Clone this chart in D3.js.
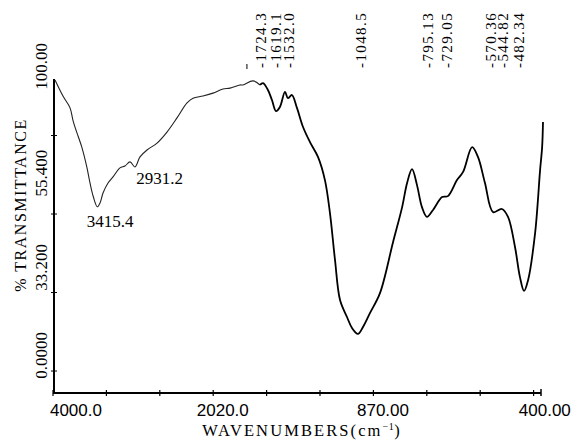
<!DOCTYPE html>
<html>
<head>
<meta charset="utf-8">
<script src="https://cdn.jsdelivr.net/npm/d3@7"></script>
<style>
  body { margin: 0; background: #fff; }
  svg { display: block; }
</style>
</head>
<body>
<div id="chart"></div>
<script>
// spectrum (wavenumber cm-1, % transmittance)
var wavenumbers = [3976, 3877, 3796, 3757, 3697, 3656, 3596, 3557, 3517, 3469,
    3437, 3401, 3341, 3281, 3198, 3138, 3078, 3018, 2958, 2874,
    2754, 2635, 2515, 2395, 2323, 2204, 2084, 1980, 1932, 1865,
    1845, 1777, 1730, 1709, 1676, 1649, 1622, 1595, 1561, 1541,
    1514, 1480, 1439, 1392, 1338, 1291, 1257, 1223, 1189, 1142,
    1108, 1068, 1034, 993, 959, 914, 883, 866, 849, 832,
    815, 798, 777, 746, 726, 695, 674, 643, 623, 599,
    571, 541, 520, 496, 479, 465, 451, 427, 410, 403, 400];
var transmittance = [99.7, 94.4, 90.8, 86.4, 81.6, 78.4, 72.1, 66.9, 62.5, 59.3,
    60.5, 63.7, 66.9, 68.8, 71.7, 72.3, 73.6, 72.0, 75.2, 77.4,
    79.6, 83.1, 87.6, 92.4, 93.9, 94.6, 95.5, 96.8, 97.1, 98.1,
    98.1, 99.4, 98.1, 98.7, 96.5, 93.3, 89.8, 91.1, 95.9, 93.9,
    94.9, 90.8, 84.7, 79.9, 75.2, 67.8, 57.3, 42.4, 29.6, 24.2,
    20.7, 18.8, 21.0, 25.5, 31.8, 48.1, 59.2, 66.9, 71.3, 66.2,
    59.2, 56.1, 58.3, 62.4, 62.7, 67.8, 70.4, 78.3, 75.2, 66.9,
    57.6, 58.6, 56.1, 46.5, 36.9, 32.5, 36.0, 51.0, 71.0, 78.3, 86.3];

// peak annotations across the top
var peakValues = [1724.3, 1619.1, 1532.0, 1048.5, 795.13, 729.05, 570.36, 544.82, 482.34];
var peakLabels = ["1724.3", "1619.1", "1532.0", "1048.5", "795.13", "729.05", "570.36", "544.82", "482.34"];
var extraMarks = [1818];

// peaks labelled inside the plot
var bandValues = [3415.4, 2931.2];
var bandLabels = ["3415.4", "2931.2"];

// axis texts
var xTickLabels = ["4000.0", "2020.0", "870.00", "400.00"];
var xTickSlots = [0.43, 3.18, 6.18, 9.21];
var yTickLabels = ["0.0000", "33.200", "55.400", "100.00"];
var yTickSlots = [12, 40, 70, 104];
var yMinorTicks = [7, 32, 57, 82];

var width = 585, height = 442;

var svg = d3.select("#chart").append("svg")
    .attr("width", width)
    .attr("height", height);

// instrument uses a split abscissa
var x = d3.scaleLinear()
    .domain([4000, 2000, 1000, 400])
    .range([53, 220, 368, 543]);

var y = d3.scaleLinear()
    .domain([0, 100])
    .range([393, 79]);

// evenly spaced frame ticks along the bottom
var frame = d3.scaleLinear()
    .domain([0, 9])
    .range([53, 533.6]);

var serif = "'Liberation Serif', 'Times New Roman', serif";
var sans = "'Liberation Sans', Arial, sans-serif";

// axes
svg.append("line")
    .attr("x1", 53).attr("x2", 541)
    .attr("y1", y(0)).attr("y2", y(0))
    .attr("stroke", "#000").attr("stroke-width", 2);

svg.append("line")
    .attr("x1", 54).attr("x2", 54)
    .attr("y1", y(0)).attr("y2", y(100))
    .attr("stroke", "#000").attr("stroke-width", 2);

svg.selectAll(".xtick")
    .data(d3.range(0, 10))
    .enter().append("line")
    .attr("x1", function (d) { return frame(d); })
    .attr("x2", function (d) { return frame(d); })
    .attr("y1", y(0) - 3).attr("y2", y(0) + 3)
    .attr("stroke", "#000").attr("stroke-width", 1.2);

svg.append("line")
    .attr("x1", 541).attr("x2", 541)
    .attr("y1", y(0) - 4).attr("y2", y(0) + 3)
    .attr("stroke", "#000").attr("stroke-width", 1.5);

svg.selectAll(".ytick")
    .data(yMinorTicks)
    .enter().append("line")
    .attr("x1", 51).attr("x2", 57)
    .attr("y1", function (d) { return y(d); })
    .attr("y2", function (d) { return y(d); })
    .attr("stroke", "#000").attr("stroke-width", 1);

// x tick labels
svg.selectAll(".xlab")
    .data(xTickLabels)
    .enter().append("text")
    .attr("x", function (d, i) { return frame(xTickSlots[i]); })
    .attr("y", 416)
    .attr("text-anchor", "middle")
    .style("font-family", sans)
    .style("font-size", "17px")
    .text(function (d) { return d; });

// x title
var xt = svg.append("text")
    .attr("x", 302)
    .attr("y", 436)
    .attr("text-anchor", "middle")
    .style("font-family", serif)
    .style("font-size", "16.5px")
    .style("letter-spacing", "2.1px");
xt.append("tspan").text("WAVENUMBERS(cm");
xt.append("tspan").attr("dy", -6).style("font-size", "10px").style("letter-spacing", "0.5px").text("\u22121");
xt.append("tspan").attr("dy", 6).text(")");

// y tick labels (rotated)
svg.selectAll(".ylab")
    .data(yTickLabels)
    .enter().append("text")
    .attr("transform", function (d, i) {
        return "translate(47," + y(yTickSlots[i]) + ") rotate(-90)";
    })
    .attr("text-anchor", "middle")
    .style("font-family", serif)
    .style("font-size", "17px")
    .text(function (d) { return d; });

// y title
svg.append("text")
    .attr("transform", "translate(26,205) rotate(-90)")
    .attr("text-anchor", "middle")
    .style("font-family", serif)
    .style("font-size", "16px")
    .style("letter-spacing", "1.5px")
    .text("% TRANSMITTANCE");

// spectrum: thin noisy part above ~1700, heavier trace below
var points = wavenumbers.map(function (w, i) { return [w, transmittance[i]]; });
var line = d3.line()
    .x(function (d) { return x(d[0]); })
    .y(function (d) { return y(d[1]); })
    .curve(d3.curveCatmullRom.alpha(0.5));

var split = 32;
svg.append("path")
    .datum(points.slice(0, split + 1))
    .attr("d", line)
    .attr("fill", "none")
    .attr("stroke", "#222")
    .attr("stroke-width", 1.1);

svg.append("path")
    .datum(points.slice(split))
    .attr("d", line)
    .attr("fill", "none")
    .attr("stroke", "#000")
    .attr("stroke-width", 1.8);

// top peak markers, nudged apart so close peaks don't collide
var labelX = peakValues.map(function (d) { return x(d); });
var gap = 12;
for (var it = 0; it < 30; it++) {
    for (var i = 1; i < labelX.length; i++) {
        var short = gap - (labelX[i] - labelX[i - 1]);
        if (short > 0) {
            labelX[i - 1] -= short / 2;
            labelX[i] += short / 2;
        }
    }
}

svg.selectAll(".peak")
    .data(peakValues)
    .enter().append("text")
    .attr("transform", function (d, i) { return "translate(" + (labelX[i] + 5) + ",68) rotate(-90)"; })
    .attr("text-anchor", "start")
    .style("font-family", serif)
    .style("font-size", "15px")
    .style("letter-spacing", "1.4px")
    .text(function (d, i) { return "-" + peakLabels[i]; });

svg.selectAll(".mark")
    .data(extraMarks)
    .enter().append("line")
    .attr("x1", function (d) { return x(d); })
    .attr("x2", function (d) { return x(d); })
    .attr("y1", 64).attr("y2", 69)
    .attr("stroke", "#000").attr("stroke-width", 1);

// band labels inside the plot
var bandOffsets = [[-15, 227], [-6, 184]];
svg.selectAll(".band")
    .data(bandValues)
    .enter().append("text")
    .attr("x", function (d, i) { return x(d) + bandOffsets[i][0]; })
    .attr("y", function (d, i) { return bandOffsets[i][1]; })
    .style("font-family", serif)
    .style("font-size", "17px")
    .text(function (d, i) { return bandLabels[i]; });
</script>
</body>
</html>
